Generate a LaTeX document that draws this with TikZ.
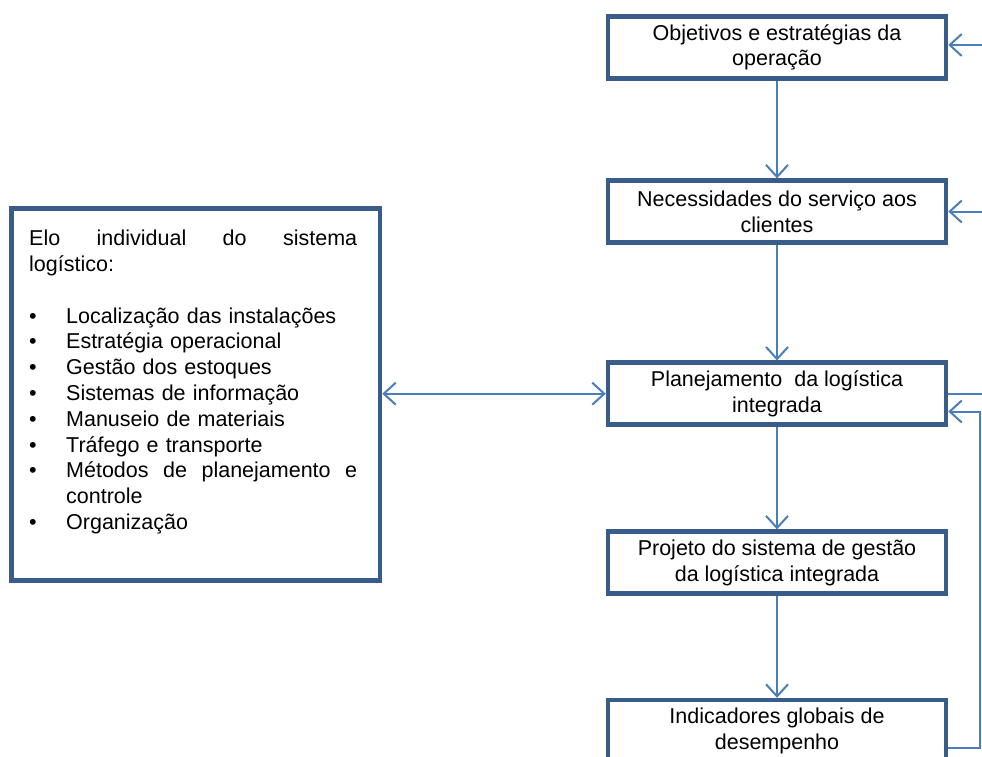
\documentclass[tikz,border=0pt]{standalone}
\usepackage{fontspec}
\setmainfont{Liberation Sans}
\usetikzlibrary{arrows.meta,calc}
\definecolor{boxblue}{HTML}{385D8A}
\definecolor{linkblue}{HTML}{4A7EBB}
\tikzset{
  box/.style={draw=boxblue, line width=4.5pt, fill=white, minimum width=338pt, minimum height=62pt, inner sep=0pt, align=center, text=black},
  link/.style={draw=linkblue, line width=2pt},
  arr/.style={link, -{Straight Barb[length=12pt,width=22pt]}},
  dblarr/.style={link, {Straight Barb[length=12pt,width=22pt]}-{Straight Barb[length=12pt,width=22pt]}}
}
\begin{document}
\begin{tikzpicture}[x=1pt,y=-1pt,font=\fontsize{21.5}{25.8}\selectfont]
\clip (0,0) rectangle (982,756);
\fill[white] (0,0) rectangle (982,756);
\node[box] (b1) at (777,47.4) {Objetivos e estratégias da\\operação};
\node[box] (b2) at (777,211.6) {Necessidades do serviço aos\\clientes};
\node[box] (b3) at (777,393.7) {Planejamento\ \ da logística\\integrada};
\node[box] (b4) at (777,562.6) {Projeto do sistema de gestão\\da logística integrada};
\node[box] (b5) at (777,731) {Indicadores globais de\\desempenho};
\node[draw=boxblue, line width=4.5pt, minimum width=368.3pt, minimum height=372pt, inner sep=0pt] (lb) at (195.85,394.5) {};
\node[anchor=north west, inner sep=0pt, text width=328pt, align=left] (lt) at (29,230) {%
Elo\hfill individual\hfill do\hfill sistema\\
logístico:\\[25.8pt]
\makebox[37pt][l]{•}Localização das instalações\\
\makebox[37pt][l]{•}Estratégia operacional\\
\makebox[37pt][l]{•}Gestão dos estoques\\
\makebox[37pt][l]{•}Sistemas de informação\\
\makebox[37pt][l]{•}Manuseio de materiais\\
\makebox[37pt][l]{•}Tráfego e transporte\\
\makebox[37pt][l]{•}Métodos\hfill de\hfill planejamento\hfill e\\
\hspace*{37pt}controle\\
\makebox[37pt][l]{•}Organização};
\draw[arr] (b1) -- (b2);
\draw[arr] (b2) -- (b3);
\draw[arr] (b3) -- (b4);
\draw[arr] (b4) -- (b5);
\coordinate (r1) at (990,45);
\coordinate (r2) at (990,211.5);
\coordinate (r3) at (990,393.5);
\coordinate (fb1) at (979.5,748);
\coordinate (fb2) at (979.5,411.5);
\draw[arr] (r1) -- (r1 -| b1.east);
\draw[arr] (r2) -- (r2 -| b2.east);
\draw[link] (b3.east |- r3) -- (r3);
\draw[arr] (fb1 -| b5.east) -- (fb1) -- (fb2) -- (fb2 -| b3.east);
\draw[dblarr] (lb.east |- b3.west) -- (b3.west);
\end{tikzpicture}
\end{document}
